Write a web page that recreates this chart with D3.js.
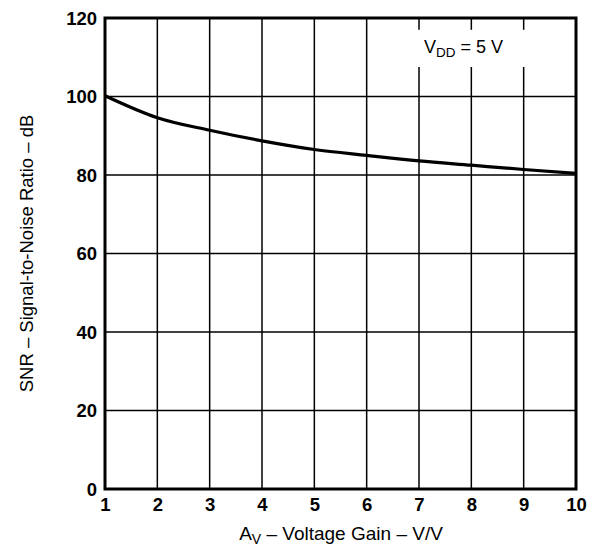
<!DOCTYPE html>
<html>
<head>
<meta charset="utf-8">
<script src="https://cdn.jsdelivr.net/npm/d3@7"></script>
<style>
  body { margin: 0; background: #fff; }
  text { font-family: "Liberation Sans", Arial, sans-serif; fill: #000; }
</style>
</head>
<body>
<div id="chart"></div>
<script>
// SNR vs voltage gain, VDD = 5 V
var gain = [1, 2, 3, 4, 5, 6, 7, 8, 9, 10];
var snr = [100.2, 94.6, 91.4, 88.7, 86.5, 85.0, 83.6, 82.5, 81.4, 80.4];
var xTicks = [1, 2, 3, 4, 5, 6, 7, 8, 9, 10];
var yTicks = [0, 20, 40, 60, 80, 100, 120];

var svgWidth = 601;
var svgHeight = 546;
var margin = { top: 18, right: 25, bottom: 57, left: 105 };
var width = svgWidth - margin.left - margin.right;
var height = svgHeight - margin.top - margin.bottom;

var svg = d3.select("#chart")
    .append("svg")
    .attr("width", svgWidth)
    .attr("height", svgHeight);

var chartGroup = svg.append("g")
    .attr("transform", `translate(${margin.left}, ${margin.top})`);

var x = d3.scaleLinear().domain([1, 10]).range([0, width]);
var y = d3.scaleLinear().domain([0, 120]).range([height, 0]);

// label box in the top right, gridlines break around it
var gapTop = y(117), gapBottom = y(107.5);

// vertical gridlines
xTicks.slice(1, -1).forEach(function (t) {
    if (t >= 7) {
        chartGroup.append("line")
            .attr("x1", x(t)).attr("x2", x(t))
            .attr("y1", 0).attr("y2", gapTop)
            .attr("stroke", "#000").attr("stroke-width", 1.5);
        chartGroup.append("line")
            .attr("x1", x(t)).attr("x2", x(t))
            .attr("y1", gapBottom).attr("y2", height)
            .attr("stroke", "#000").attr("stroke-width", 1.5);
    } else {
        chartGroup.append("line")
            .attr("x1", x(t)).attr("x2", x(t))
            .attr("y1", 0).attr("y2", height)
            .attr("stroke", "#000").attr("stroke-width", 1.5);
    }
});

// horizontal gridlines
chartGroup.selectAll(".hgrid")
    .data(yTicks.slice(1, -1))
    .enter()
    .append("line")
    .attr("x1", 0).attr("x2", width)
    .attr("y1", d => y(d)).attr("y2", d => y(d))
    .attr("stroke", "#000").attr("stroke-width", 1.5);

// frame
chartGroup.append("rect")
    .attr("x", 0).attr("y", 0)
    .attr("width", width).attr("height", height)
    .attr("fill", "none")
    .attr("stroke", "#000").attr("stroke-width", 3);

// axes (labels only)
var bottomAxis = d3.axisBottom(x).tickValues(xTicks).tickSize(0).tickPadding(9);
var leftAxis = d3.axisLeft(y).tickValues(yTicks).tickSize(0).tickPadding(8);

var xAxis = chartGroup.append("g")
    .attr("transform", `translate(0, ${height})`)
    .call(bottomAxis);
var yAxis = chartGroup.append("g").call(leftAxis);

[xAxis, yAxis].forEach(function (a) {
    a.select(".domain").remove();
    a.selectAll("text")
        .attr("font-size", 18.5)
        .attr("font-weight", "bold")
        .attr("font-family", "'Liberation Sans', Arial, sans-serif")
        .attr("fill", "#000");
});
yAxis.selectAll("text").attr("dy", "0.35em");

// curve
var line = d3.line()
    .x((d, i) => x(gain[i]))
    .y(d => y(d))
    .curve(d3.curveMonotoneX);

chartGroup.append("path")
    .datum(snr)
    .attr("d", line)
    .attr("fill", "none")
    .attr("stroke", "#000")
    .attr("stroke-width", 3.2);

// VDD label
var vdd = chartGroup.append("text")
    .attr("x", 463.5 - margin.left)
    .attr("y", y(111.2))
    .attr("text-anchor", "middle")
    .attr("font-size", 18);
vdd.append("tspan").text("V");
vdd.append("tspan").attr("font-size", 13.5).attr("dy", 4).text("DD");
vdd.append("tspan").attr("dy", -4).text(" = 5 V");

// axis titles
var xTitle = svg.append("text")
    .attr("x", 341)
    .attr("y", 540)
    .attr("text-anchor", "middle")
    .attr("font-size", 19);
xTitle.append("tspan").text("A");
xTitle.append("tspan").attr("font-size", 14).attr("dy", 4).text("V");
xTitle.append("tspan").attr("dy", -4).text(" \u2013 Voltage Gain \u2013 V/V");

svg.append("text")
    .attr("transform", "translate(33, 253.5) rotate(-90)")
    .attr("text-anchor", "middle")
    .attr("font-size", 18.5)
    .text("SNR \u2013 Signal-to-Noise Ratio \u2013 dB");
</script>
</body>
</html>
